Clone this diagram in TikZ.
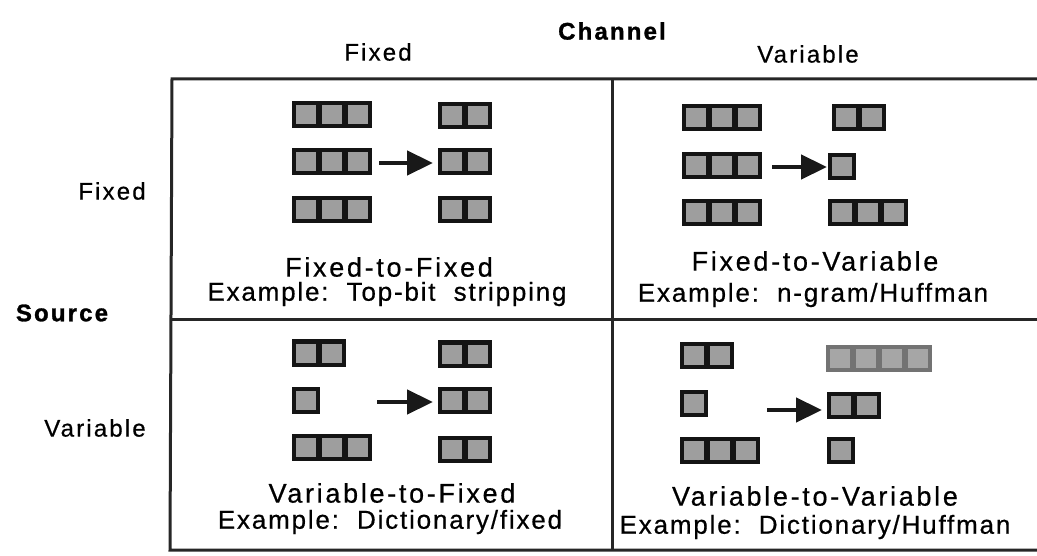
\documentclass[tikz,border=0pt]{standalone}
\usepackage{fontspec}
\setmainfont{Liberation Sans}[LetterSpace=7, FakeBold=0.6, BoldFeatures={FakeBold=1.2}]
\newfontfamily\ttlfont{Liberation Sans}[LetterSpace=10, FakeBold=0.6]
\newfontfamily\hdrfont{Liberation Sans}[LetterSpace=9, FakeBold=0.6, BoldFeatures={FakeBold=1.2}]
\usetikzlibrary{arrows.meta}
\tikzset{
  grid/.style={line width=3pt, black!85},
  lbl/.style={font=\fontsize{26}{28}\selectfont, inner sep=0pt},
  ttl/.style={font=\ttlfont\fontsize{27}{28}\selectfont, inner sep=0pt},
  hdr/.style={font=\hdrfont\fontsize{24}{26}\selectfont, inner sep=0pt},
  bhdr/.style={font=\hdrfont\fontsize{24}{26}\selectfont\bfseries, inner sep=0pt},
  blkframe/.style={fill=black!92},
  blkin/.style={fill=black!38},
  gblkframe/.style={fill=black!55},
  gblkin/.style={fill=black!35},
  conv/.style={line width=4.5pt, black!90, -{Triangle[length=26pt,width=24pt]}}
}
\newcommand{\blk}[3]{%
  \fill[blkframe] (#1,#2-13.5) rectangle ++(26*#3+2,27);
  \foreach \i in {1,...,#3} \fill[blkin] ({#1+4+26*(\i-1)},#2-9.5) rectangle ++(20,19);
}
\newcommand{\gblk}[3]{%
  \fill[gblkframe] (#1,#2-13.5) rectangle ++(26*#3+2,27);
  \foreach \i in {1,...,#3} \fill[gblkin] ({#1+4+26*(\i-1)},#2-9.5) rectangle ++(20,19);
}
\begin{document}
\begin{tikzpicture}[x=1pt,y=-1pt]
\useasboundingbox (0,0) rectangle (1037,556);
% grid
\draw[grid] (1037,79) -- (172,79) -- (170,550) -- (1037,550);
\draw[grid] (170,320) -- (1037,320);
\draw[grid] (612,79) -- (612,550);
% headers
\node[bhdr] (channel) at (612,31) {Channel};
\node[hdr] (cfixed) at (378,52) {Fixed};
\node[hdr] (cvar) at (808,54) {Variable};
\node[hdr] (sfixed) at (112,191) {Fixed};
\node[bhdr] (source) at (62,313) {Source};
\node[hdr] (svar) at (95,428) {Variable};
% TL
\blk{292}{115}{3}\blk{292}{162}{3}\blk{292}{210}{3}
\blk{438}{116}{2}\blk{438}{162}{2}\blk{438}{210}{2}
\coordinate (a1s) at (379,163); \coordinate (a1e) at (433,163);
\draw[conv] (a1s) -- (a1e);
\node[ttl] (tl1) at (389,267) {Fixed-to-Fixed};
\node[lbl] (tl2) at (387,294) {Example:\ \ Top-bit\ \ stripping};
% TR
\blk{682}{118}{3}\blk{682}{166}{3}\blk{682}{213}{3}
\blk{832}{118}{2}\blk{828}{167}{1}\blk{828}{213}{3}
\coordinate (a2s) at (772,167); \coordinate (a2e) at (827,167);
\draw[conv] (a2s) -- (a2e);
\node[ttl] (tr1) at (815,261) {Fixed-to-Variable};
\node[lbl] (tr2) at (813,295) {Example:\ \ n-gram/Huffman};
% BL
\blk{292}{353}{2}\blk{292}{400}{1}\blk{292}{447}{3}
\blk{438}{354}{2}\blk{438}{400}{2}\blk{438}{449}{2}
\coordinate (a3s) at (377,402); \coordinate (a3e) at (433,402);
\draw[conv] (a3s) -- (a3e);
\node[ttl] (bl1) at (392,493) {Variable-to-Fixed};
\node[lbl] (bl2) at (390,522) {Example:\ \ Dictionary/fixed};
% BR
\blk{680}{355}{2}\blk{680}{403}{1}\blk{680}{450}{3}
\gblk{826}{358}{4}\blk{827}{405}{2}\blk{827}{450}{1}
\coordinate (a4s) at (767,410); \coordinate (a4e) at (822,410);
\draw[conv] (a4s) -- (a4e);
\node[ttl] (br1) at (815,496) {Variable-to-Variable};
\node[lbl] (br2) at (815,527) {Example:\ \ Dictionary/Huffman};
\end{tikzpicture}
\end{document}
